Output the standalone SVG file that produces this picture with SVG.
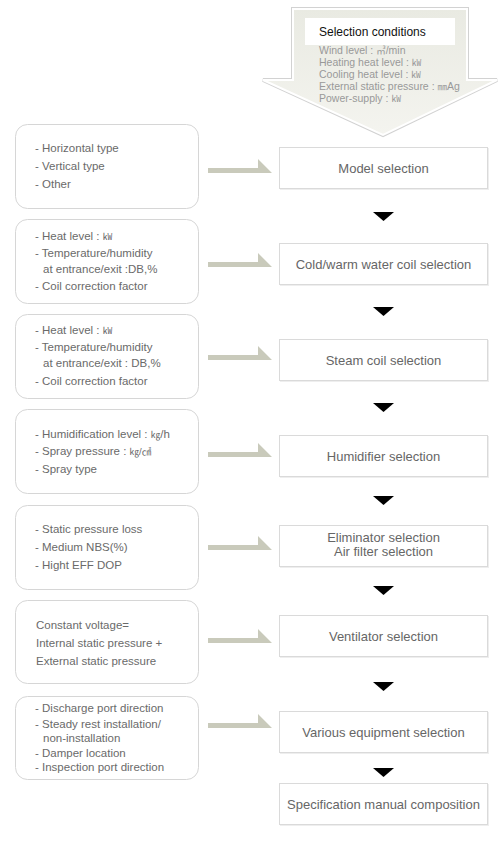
<svg xmlns="http://www.w3.org/2000/svg" width="500" height="850" viewBox="0 0 500 850">
<defs>
<linearGradient id="bg" x1="0" y1="0" x2="0" y2="1">
<stop offset="0" stop-color="#e9eae2"/>
<stop offset="1" stop-color="#f4f4ef"/>
</linearGradient>
<style>
text{font-family:"Liberation Sans","Noto Sans CJK KR",Arial,sans-serif}
.lb{fill:#fff;stroke:#d6d6d6;stroke-width:1}
.rb{fill:#fff;stroke:#dadada;stroke-width:1}
.sh{fill:#eeeeee}
.lt{font-size:11.5px;fill:#6a6a6a}
.rt{font-size:13px;fill:#666;text-anchor:middle}
.ct{font-size:10.5px;fill:#999}
.u{font-size:9.5px}
.ga{fill:#c9cabb}
.bt{fill:#000}
</style>
</defs>
<rect width="500" height="850" fill="#fff"/>

<g id="selection-conditions">
<polygon points="293,9 467,9 467,80 497,80 383,135 263,80 293,80" fill="url(#bg)" stroke="#d2d2d2" stroke-width="4" stroke-linejoin="miter"/>
<polygon points="293,9 467,9 467,80 497,80 383,135 263,80 293,80" fill="url(#bg)" stroke="#fff" stroke-width="2"/>
<rect x="305" y="18" width="150" height="27" fill="#fff"/>
<text x="319" y="36" font-size="12" fill="#111">Selection conditions</text>
<text class="ct" x="319" y="54">Wind level : <tspan class="u">㎥</tspan>/min</text>
<text class="ct" x="319" y="66">Heating heat level : <tspan class="u">㎾</tspan></text>
<text class="ct" x="319" y="78">Cooling heat level : <tspan class="u">㎾</tspan></text>
<text class="ct" x="319" y="90">External static pressure : <tspan class="u">㎜</tspan>Ag</text>
<text class="ct" x="319" y="102">Power-supply : <tspan class="u">㎾</tspan></text>
</g>

<g id="c1"><rect class="lb" x="15.5" y="124.5" width="183" height="84" rx="12"/>
<text class="lt" x="35" y="152">- Horizontal type</text>
<text class="lt" x="35" y="170">- Vertical type</text>
<text class="lt" x="35" y="188">- Other</text></g>

<g id="c2"><rect class="lb" x="15.5" y="219.5" width="183" height="84" rx="12"/>
<text class="lt" x="35" y="240">- Heat level : <tspan class="u">㎾</tspan></text>
<text class="lt" x="35" y="257">- Temperature/humidity</text>
<text class="lt" x="43" y="273">at entrance/exit :DB,%</text>
<text class="lt" x="35" y="290">- Coil correction factor</text></g>

<g id="c3"><rect class="lb" x="15.5" y="314.5" width="183" height="84" rx="12"/>
<text class="lt" x="35" y="334">- Heat level : <tspan class="u">㎾</tspan></text>
<text class="lt" x="35" y="351">- Temperature/humidity</text>
<text class="lt" x="43" y="367">at entrance/exit : DB,%</text>
<text class="lt" x="35" y="385">- Coil correction factor</text></g>

<g id="c4"><rect class="lb" x="15.5" y="409.5" width="183" height="84" rx="12"/>
<text class="lt" x="35" y="438">- Humidification level : <tspan class="u">㎏</tspan>/h</text>
<text class="lt" x="35" y="455">- Spray pressure : <tspan class="u">㎏/㎠</tspan></text>
<text class="lt" x="35" y="473">- Spray type</text></g>

<g id="c5"><rect class="lb" x="15.5" y="505.5" width="183" height="84" rx="12"/>
<text class="lt" x="35" y="533">- Static pressure loss</text>
<text class="lt" x="35" y="551">- Medium NBS(%)</text>
<text class="lt" x="35" y="569">- Hight EFF DOP</text></g>

<g id="c6"><rect class="lb" x="15.5" y="600.5" width="183" height="83" rx="12"/>
<text class="lt" x="36" y="629">Constant voltage=</text>
<text class="lt" x="36" y="647">Internal static pressure +</text>
<text class="lt" x="36" y="665">External static pressure</text></g>

<g id="c7"><rect class="lb" x="15.5" y="696.5" width="183" height="83" rx="12"/>
<text class="lt" x="35" y="712">- Discharge port direction</text>
<text class="lt" x="35" y="728">- Steady rest installation/</text>
<text class="lt" x="43" y="742">non-installation</text>
<text class="lt" x="35" y="757">- Damper location</text>
<text class="lt" x="35" y="771">- Inspection port direction</text></g>

<g id="s1"><rect class="sh" x="280" y="148" width="209" height="42"/><rect class="rb" x="279.5" y="147.5" width="208" height="41"/>
<text class="rt" x="383.5" y="173">Model selection</text></g>
<g id="s2"><rect class="sh" x="280" y="244" width="209" height="42"/><rect class="rb" x="279.5" y="243.5" width="208" height="41"/>
<text class="rt" x="383.5" y="269">Cold/warm water coil selection</text></g>
<g id="s3"><rect class="sh" x="280" y="340" width="209" height="42"/><rect class="rb" x="279.5" y="339.5" width="208" height="41"/>
<text class="rt" x="383.5" y="365">Steam coil selection</text></g>
<g id="s4"><rect class="sh" x="280" y="436" width="209" height="42"/><rect class="rb" x="279.5" y="435.5" width="208" height="41"/>
<text class="rt" x="383.5" y="461">Humidifier selection</text></g>
<g id="s5"><rect class="sh" x="280" y="526" width="209" height="42"/><rect class="rb" x="279.5" y="525.5" width="208" height="41"/>
<text class="rt" x="383.5" y="541.5" font-size="12">Eliminator selection</text>
<text class="rt" x="383.5" y="555.5" font-size="12">Air filter selection</text></g>
<g id="s6"><rect class="sh" x="280" y="616" width="209" height="42"/><rect class="rb" x="279.5" y="615.5" width="208" height="41"/>
<text class="rt" x="383.5" y="641">Ventilator selection</text></g>
<g id="s7"><rect class="sh" x="280" y="712" width="209" height="42"/><rect class="rb" x="279.5" y="711.5" width="208" height="41"/>
<text class="rt" x="383.5" y="737">Various equipment selection</text></g>
<g id="s8"><rect class="sh" x="280" y="784" width="209" height="42"/><rect class="rb" x="279.5" y="783.5" width="208" height="41"/>
<text class="rt" x="383.5" y="809">Specification manual composition</text></g>

<g id="connectors">
<polygon class="ga" points="208,168 258,168 258,159 272,173 208,173"/>
<polygon class="ga" points="208,262 258,262 258,253 272,267 208,267"/>
<polygon class="ga" points="208,355 258,355 258,346 272,360 208,360"/>
<polygon class="ga" points="208,452 258,452 258,443 272,457 208,457"/>
<polygon class="ga" points="208,545 258,545 258,536 272,550 208,550"/>
<polygon class="ga" points="208,638 258,638 258,629 272,643 208,643"/>
<polygon class="ga" points="208,723 258,723 258,714 272,728 208,728"/>
<polygon class="bt" points="373,212 394,212 383.5,221"/>
<polygon class="bt" points="373,307 394,307 383.5,316"/>
<polygon class="bt" points="373,403 394,403 383.5,412"/>
<polygon class="bt" points="373,496 394,496 383.5,505"/>
<polygon class="bt" points="373,586 394,586 383.5,595"/>
<polygon class="bt" points="373,682 394,682 383.5,691"/>
<polygon class="bt" points="373,768 394,768 383.5,777"/>
</g>
</svg>
